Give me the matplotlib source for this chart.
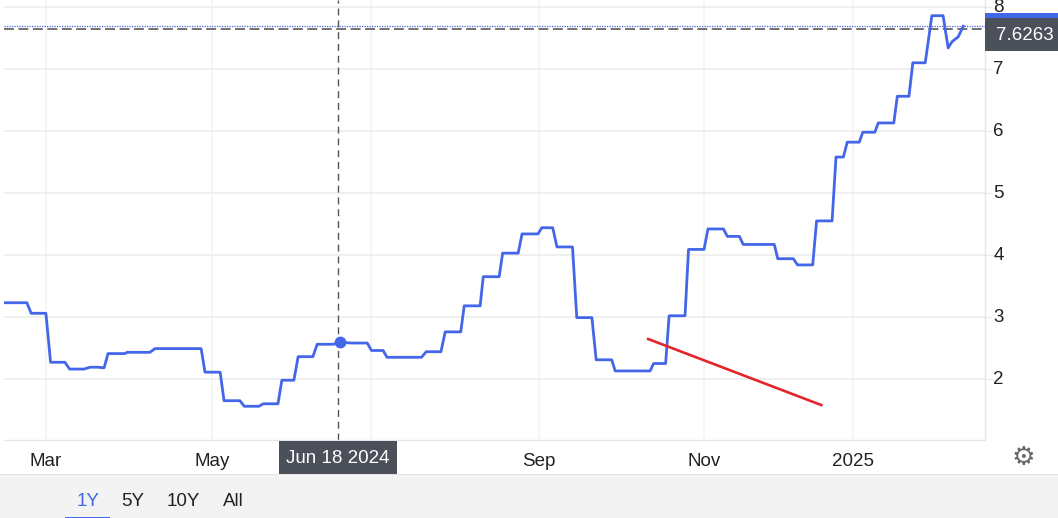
import matplotlib
matplotlib.use("Agg")
import matplotlib.pyplot as plt
from matplotlib.patches import Rectangle
from matplotlib.transforms import ScaledTranslation

plt.rcParams['font.family'] = ['Liberation Sans', 'DejaVu Sans']

sessions = [0, 5.9, 7.0, 10.8, 12.0, 15.7, 16.9, 20.6, 22.2, 24.2, 25.8, 26.8, 31.2, 31.7, 37.6, 38.9,
            50.8, 51.8, 55.7, 56.7, 60.8, 61.9, 65.7, 66.8, 70.6, 71.6, 74.7, 75.8, 79.6, 80.7, 84.8,
            86.6, 89.7, 93.6, 94.7, 97.7, 98.7, 107.6, 108.8, 112.6, 113.7, 117.7, 118.6, 122.7, 123.5,
            127.6, 128.5, 132.5, 133.5, 137.6, 138.6, 141.4, 142.5, 146.5, 147.6, 151.5, 152.6, 156.6,
            157.5, 166.5, 167.4, 170.5, 171.4, 175.5, 176.4, 180.4, 181.4, 185.4, 186.4, 189.5, 190.5,
            198.5, 199.4, 203.4, 204.5, 208.4, 209.4, 213.4, 214.4, 216.3, 217.3, 220.4, 221.3, 224.4,
            225.3, 229.3, 230.2, 233.2, 234.2, 237.4, 239.1, 242.0, 243.3, 244.3, 245.9, 247.2]
values = [3.23, 3.23, 3.06, 3.06, 2.27, 2.27, 2.16, 2.16, 2.19, 2.19, 2.18, 2.41, 2.41, 2.43, 2.43, 2.49,
          2.49, 2.11, 2.11, 1.65, 1.65, 1.56, 1.56, 1.60, 1.60, 1.98, 1.98, 2.36, 2.36, 2.56, 2.56,
          2.59, 2.58, 2.58, 2.46, 2.46, 2.35, 2.35, 2.44, 2.44, 2.76, 2.76, 3.18, 3.18, 3.65,
          3.65, 4.03, 4.03, 4.34, 4.34, 4.44, 4.44, 4.13, 4.13, 2.99, 2.99, 2.31, 2.31,
          2.13, 2.13, 2.25, 2.25, 3.02, 3.02, 4.09, 4.09, 4.42, 4.42, 4.30, 4.30, 4.17,
          4.17, 3.94, 3.94, 3.84, 3.84, 4.55, 4.55, 5.58, 5.58, 5.82, 5.82, 5.98, 5.98,
          6.13, 6.13, 6.56, 6.56, 7.10, 7.10, 7.86, 7.86, 7.34, 7.44, 7.52, 7.69]

month_ticks = [10.8, 53.6, 137.9, 180.4, 218.8]
month_labels = ['Mar', 'May', 'Sep', 'Nov', '2025']
hidden_month_tick = [94.6]
y_ticks = [2, 3, 4, 5, 6, 7, 8]

cross_x = 86.1
marker_x = 86.6
cross_y = 2.59
cross_label = 'Jun 18 2024'
price_ref = 7.645
price_label = '7.6263'
last_value = 7.69
trend_x = [166.0, 210.6]
trend_y = [2.645, 1.58]
ranges = ['1Y', '5Y', '10Y', 'All']

W, H = 1058, 518
BLUE = '#4466e8'
DARK = '#4b505b'
GRID = '#ebebeb'
TXT = '#222222'
FS = 13.5

fig = plt.figure(figsize=(W / 100, H / 100), dpi=100, facecolor='white')
ax = fig.add_axes([4 / W, 1 - 440 / H, 981 / W, 440 / H])
ax.set_xlim(0, 252.8)
ax.set_ylim(1.016, 8.113)


def px_rect(x0, y0, x1, y1, color, z=5):
    fig.add_artist(Rectangle((x0 / W, 1 - y1 / H), (x1 - x0) / W, (y1 - y0) / H,
                             transform=fig.transFigure, facecolor=color,
                             edgecolor='none', zorder=z))


def px_text(x, y, s, **kw):
    fig.text(x / W, 1 - y / H, s, va='center', **kw)


# axes
for s in ['top', 'left']:
    ax.spines[s].set_visible(False)
for s in ['right', 'bottom']:
    ax.spines[s].set_color('#e6e6e6')
    ax.spines[s].set_linewidth(1.0)
ax.yaxis.tick_right()
ax.set_yticks(y_ticks)
ax.set_xticks(month_ticks)
ax.set_xticklabels(month_labels)
ax.tick_params(axis='y', length=5, width=1, color=GRID, labelsize=FS, labelcolor=TXT, pad=1)
ax.tick_params(axis='x', length=0, labelsize=FS, labelcolor=TXT, pad=9)
ax.grid(axis='y', color=GRID, lw=1.1)
ax.grid(axis='x', color='#f3f3f3', lw=1.1)
ax.axvline(hidden_month_tick[0], color='#f3f3f3', lw=1.1, zorder=0.5)
ax.set_axisbelow(True)
lift = ScaledTranslation(0, 1.5 / 100, fig.dpi_scale_trans)
for lab in ax.get_yticklabels():
    lab.set_transform(lab.get_transform() + lift)

# series
ax.plot(sessions, values, color=BLUE, lw=2.0, solid_joinstyle='round', zorder=3)
ax.plot(trend_x, trend_y, color='#e4262c', lw=1.9, zorder=4)

# crosshair and price lines
ax.axhline(last_value, color=BLUE, lw=0.9, ls=(0, (1, 1)), zorder=2)
ax.axhline(price_ref, color='#666666', lw=1.3, ls=(0, (5.5, 2.5)), zorder=2)
ax.axvline(cross_x, color='#555555', lw=1.0, ls=(0, (5, 3.5)), zorder=2)
ax.plot([marker_x], [cross_y], 'o', color=BLUE, ms=8.5, mec='none', zorder=5, clip_on=False)

# right labels
px_rect(985, 13, W, 18, BLUE, 5)
px_rect(985, 18, W, 51, DARK, 5)
px_text(1024.5, 35.5, price_label, color='white', fontsize=FS, ha='center', zorder=6)

# crosshair date label
px_rect(279, 441, 397, 474, DARK, 5)
px_text(338, 458.5, cross_label, color='white', fontsize=FS, ha='center', zorder=6)

# bottom band
px_rect(0, 474, W, H, '#f3f3f3', 1)
px_rect(0, 473.5, W, 474.5, '#e3e3e3', 2)
for x, label, color in zip([88, 133, 183, 233], ranges, [BLUE, TXT, TXT, TXT]):
    px_text(x, 501.5, label, color=color, fontsize=FS, ha='center', zorder=3)
px_rect(65, 516.5, 110, 518, BLUE, 3)

# settings gear
px_text(1023.5, 457.5, '\u2699', color='#666666', fontsize=19, ha='center',
        family='DejaVu Sans', zorder=3)

fig.savefig('out.png', dpi=100, facecolor='white')
